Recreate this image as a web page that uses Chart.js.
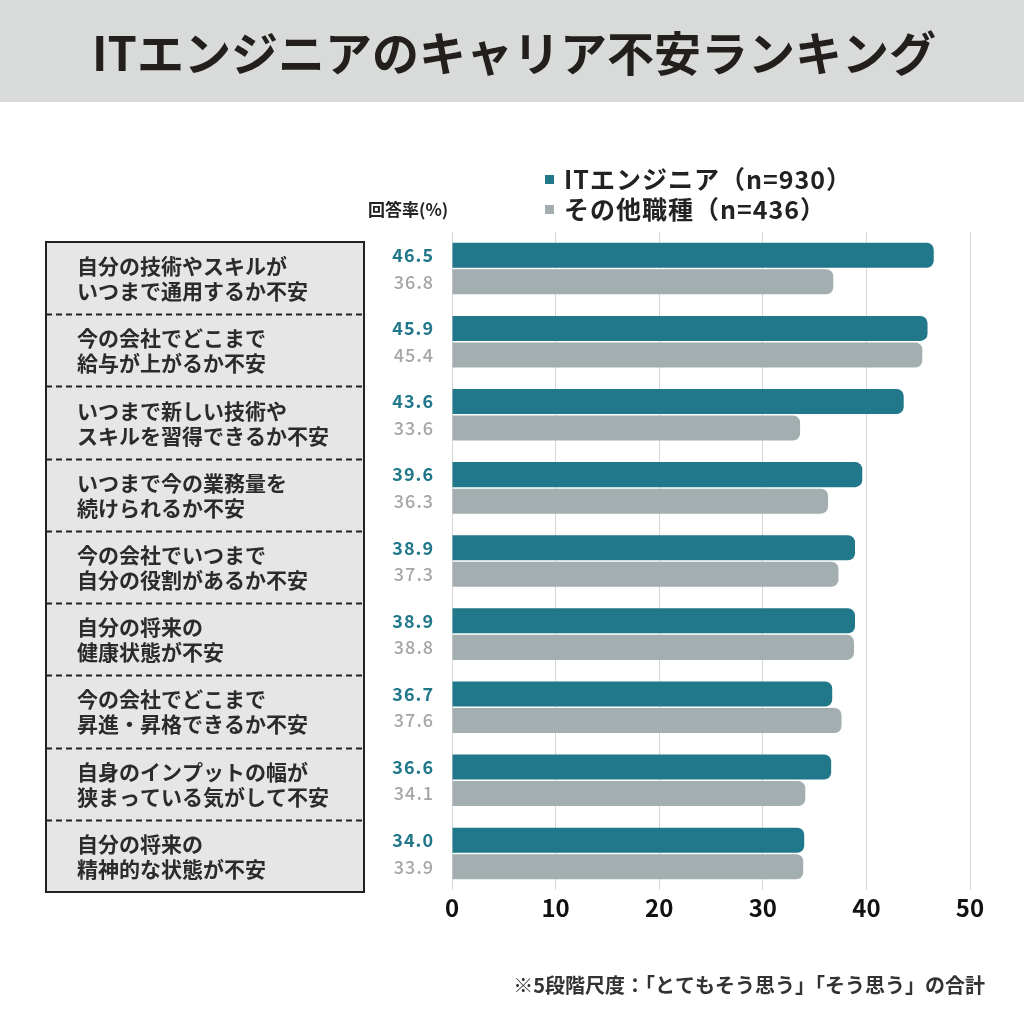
<!DOCTYPE html>
<html>
<head>
<meta charset="utf-8">
<script src="https://cdn.jsdelivr.net/npm/chart.js@4/dist/chart.umd.min.js"></script>
<style>
  html, body { margin: 0; padding: 0; background: #fff; }
  #chart { display: block; }
</style>
</head>
<body>
<canvas id="chart" width="1024" height="1024"></canvas>
<script>
// data
var categories = [
    ["自分の技術やスキルが", "いつまで通用するか不安"],
    ["今の会社でどこまで", "給与が上がるか不安"],
    ["いつまで新しい技術や", "スキルを習得できるか不安"],
    ["いつまで今の業務量を", "続けられるか不安"],
    ["今の会社でいつまで", "自分の役割があるか不安"],
    ["自分の将来の", "健康状態が不安"],
    ["今の会社でどこまで", "昇進・昇格できるか不安"],
    ["自身のインプットの幅が", "狭まっている気がして不安"],
    ["自分の将来の", "精神的な状態が不安"]
];
var itEngineer = [46.5, 45.9, 43.6, 39.6, 38.9, 38.9, 36.7, 36.6, 34.0];
var otherJobs = [36.8, 45.4, 33.6, 36.3, 37.3, 38.8, 37.6, 34.1, 33.9];
var seriesNames = ["ITエンジニア（n=930）", "その他職種（n=436）"];
var xTicks = [0, 10, 20, 30, 40, 50];

var TITLE = "ITエンジニアのキャリア不安ランキング";
var AXIS_NOTE = "回答率(%)";
var FOOTNOTE = "※5段階尺度：「とてもそう思う」「そう思う」の合計";

var TEAL = '#21788a';
var GREY = '#a3aeb0';
var FONT = '"Noto Sans CJK JP", "Noto Sans", sans-serif';

// everything that is not a bar is drawn here
var decorations = {
    id: 'decorations',
    beforeDraw: function(chart) {
        var c = chart.ctx;
        c.save();
        // title banner
        c.fillStyle = '#d9dbda';
        c.fillRect(0, 0, 1024, 102);
        c.fillStyle = '#231f1c';
        c.font = 'bold 47px ' + FONT;
        c.textAlign = 'center';
        c.textBaseline = 'middle';
        c.fillText(TITLE, 514, 53);

        // category box
        var boxTop = 242, boxBottom = 892, boxLeft = 46, boxRight = 364;
        var rowH = (boxBottom - boxTop) / categories.length;
        c.fillStyle = '#e6e6e6';
        c.fillRect(boxLeft, boxTop, boxRight - boxLeft, boxBottom - boxTop);
        c.strokeStyle = '#222';
        c.lineWidth = 2;
        c.setLineDash([6, 4]);
        for (var i = 1; i < categories.length; i++) {
            var yy = Math.round(boxTop + i * rowH) + 0.5;
            c.beginPath();
            c.moveTo(boxLeft, yy);
            c.lineTo(boxRight, yy);
            c.stroke();
        }
        c.setLineDash([]);
        c.strokeRect(boxLeft, boxTop, boxRight - boxLeft, boxBottom - boxTop);

        c.fillStyle = '#2b2b2b';
        c.font = 'bold 21px ' + FONT;
        c.textAlign = 'left';
        for (var j = 0; j < categories.length; j++) {
            var mid = boxTop + (j + 0.5) * rowH;
            c.fillText(categories[j][0], 77, mid - 12);
            c.fillText(categories[j][1], 77, mid + 13);
        }

        // legend
        var legendColors = [TEAL, GREY];
        c.font = 'bold 25px ' + FONT;
        c.letterSpacing = '1px';
        for (var k = 0; k < seriesNames.length; k++) {
            var ly = 179 + k * 30;
            c.fillStyle = legendColors[k];
            c.fillRect(545, ly - 4, 9, 9);
            c.fillStyle = '#222';
            c.fillText(seriesNames[k], 564, ly);
        }
        c.letterSpacing = '0px';
        c.font = 'bold 17px ' + FONT;
        c.fillText(AXIS_NOTE, 368, 210);

        // footnote
        c.textAlign = 'right';
        c.font = 'bold 20px ' + FONT;
        c.fillStyle = '#333';
        c.fillText(FOOTNOTE, 985, 985);
        c.restore();
    },
    afterDatasetsDraw: function(chart) {
        var c = chart.ctx;
        c.save();
        c.textAlign = 'right';
        c.textBaseline = 'middle';
        var styles = [
            {color: TEAL, font: 'bold 18px ' + FONT},
            {color: '#a6a6a6', font: '500 18px ' + FONT}
        ];
        chart.data.datasets.forEach(function(ds, d) {
            var meta = chart.getDatasetMeta(d);
            c.fillStyle = styles[d].color;
            c.font = styles[d].font;
            c.letterSpacing = '1px';
            meta.data.forEach(function(bar, i) {
                c.fillText(ds.data[i].toFixed(1), 434, bar.y);
            });
        });

        // x tick labels, placed by the x scale
        var xs = chart.scales.x;
        c.letterSpacing = '0px';
        c.fillStyle = '#111';
        c.font = 'bold 24px ' + FONT;
        c.textAlign = 'center';
        xTicks.forEach(function(v) {
            c.fillText(String(v), xs.getPixelForValue(v), 908);
        });
        c.restore();
    }
};

var ctx = document.getElementById('chart').getContext('2d');
var chart = new Chart(ctx, {
    type: 'bar',
    data: {
        labels: categories,
        datasets: [{
            label: seriesNames[0],
            data: itEngineer,
            backgroundColor: TEAL,
            borderRadius: 7,
            borderSkipped: 'start',
            categoryPercentage: 0.726,
            barPercentage: 0.943
        }, {
            label: seriesNames[1],
            data: otherJobs,
            backgroundColor: GREY,
            borderRadius: 7,
            borderSkipped: 'start',
            categoryPercentage: 0.726,
            barPercentage: 0.943
        }]
    },
    options: {
        indexAxis: 'y',
        responsive: false,
        animation: false,
        layout: {
            padding: {left: 452, right: 54, top: 232, bottom: 134}
        },
        plugins: {
            legend: {display: false},
            title: {display: false},
            tooltip: {enabled: false}
        },
        scales: {
            x: {
                min: xTicks[0],
                max: xTicks[xTicks.length - 1],
                afterBuildTicks: function(axis) {
                    axis.ticks = xTicks.map(function(v) { return {value: v}; });
                },
                afterFit: function(axis) { axis.height = 0; },
                grid: {color: '#d6d6d6', lineWidth: 1, drawTicks: false},
                border: {display: false},
                ticks: {display: false}
            },
            y: {
                display: false
            }
        }
    },
    plugins: [decorations]
});
</script>
</body>
</html>
